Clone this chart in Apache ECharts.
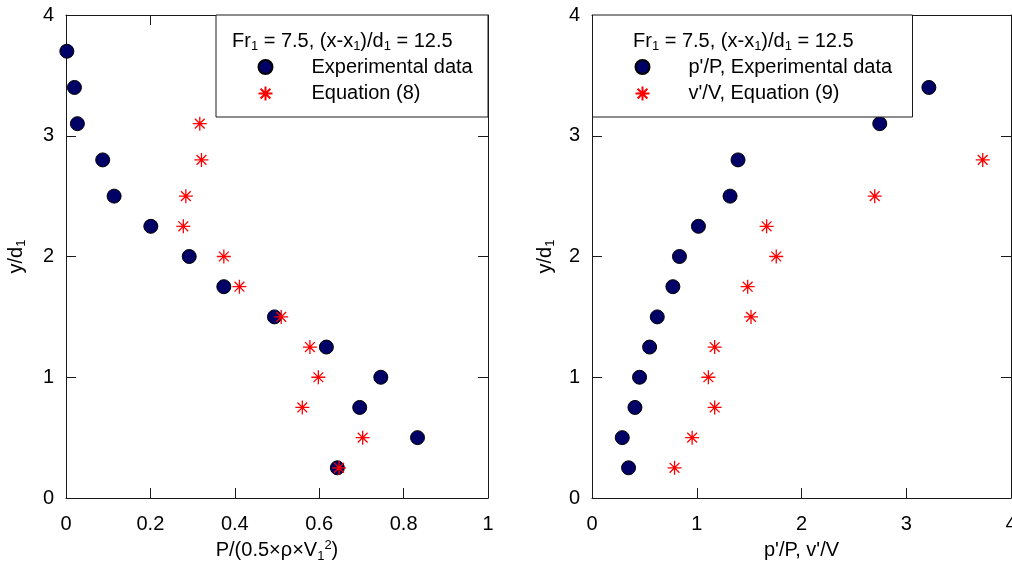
<!DOCTYPE html>
<html>
<head>
<meta charset="utf-8">
<script src="https://cdn.jsdelivr.net/npm/echarts@6/dist/echarts.min.js"></script>
<style>
html,body{margin:0;padding:0;background:#fff;}
#chart{width:1012px;height:564px;}
</style>
</head>
<body>
<div id="chart"></div>
<script>
// ---- data ----
const leftExpY = [3.7, 3.4, 3.1, 2.8, 2.5, 2.25, 2.0, 1.75, 1.5, 1.25, 1.0, 0.75, 0.5, 0.25];
const leftExpX = [0.002, 0.020, 0.027, 0.087, 0.114, 0.201, 0.292, 0.374, 0.494, 0.617, 0.746, 0.696, 0.833, 0.643];
const leftEqY = [3.1, 2.8, 2.5, 2.25, 2.0, 1.75, 1.5, 1.25, 1.0, 0.75, 0.5, 0.25];
const leftEqX = [0.317, 0.321, 0.284, 0.278, 0.374, 0.411, 0.510, 0.578, 0.598, 0.560, 0.703, 0.647];
const rightExpY = [3.4, 3.1, 2.8, 2.5, 2.25, 2.0, 1.75, 1.5, 1.25, 1.0, 0.75, 0.5, 0.25];
const rightExpX = [3.216, 2.747, 1.394, 1.318, 1.016, 0.835, 0.772, 0.623, 0.550, 0.454, 0.410, 0.289, 0.349];
const rightEqY = [2.8, 2.5, 2.25, 2.0, 1.75, 1.5, 1.25, 1.0, 0.75, 0.5, 0.25];
const rightEqX = [3.73, 2.699, 1.667, 1.759, 1.486, 1.518, 1.171, 1.111, 1.171, 0.956, 0.788];

const leftXTicks = ['0', '0.2', '0.4', '0.6', '0.8', '1'];
const rightXTicks = ['0', '1', '2', '3', '4'];
const yTicks = ['0', '1', '2', '3', '4'];

const seriesNames = ['Experimental data', 'Equation (8)', "p'/P, Experimental data", "v'/V, Equation (9)"];

// ---- styling ----
const FONT = 'Liberation Sans, Arial, sans-serif';
const FS = 20;
const AXC = '#1a1a1a';
const NAVY = '#000066';
const STAR = 'path://M10,0L10,20M0,10L20,10M3,3L17,17M3,17L17,3';

function pairs(xs, ys) { return xs.map((x, i) => [x, ys[i]]); }

function tickFmt(arr, step) {
  return function (v) { const i = Math.round(v / step); return arr[i] !== undefined ? arr[i] : ''; };
}

const nameRich = {
  n: { fontFamily: FONT, fontSize: FS, fontWeight: 'normal', color: '#000', lineHeight: 24, verticalAlign: 'middle' },
  s: { fontFamily: FONT, fontSize: 13, fontWeight: 'normal', color: '#000', lineHeight: 13, verticalAlign: 'bottom', padding: [11, 0, 0, 0] },
  p: { fontFamily: FONT, fontSize: 13, fontWeight: 'normal', color: '#000', lineHeight: 13, verticalAlign: 'top' }
};

function bottomAxis(gi, max, interval, ticks, name) {
  return {
    type: 'value', gridIndex: gi, position: 'bottom', min: 0, max: max, interval: interval,
    name: name, nameLocation: 'middle', nameGap: 40,
    nameTextStyle: { rich: nameRich },
    axisLine: { show: true, onZero: false, lineStyle: { color: AXC, width: 1 } },
    axisTick: { show: true, inside: true, length: 10, lineStyle: { color: AXC } },
    axisLabel: { show: true, margin: 16, fontFamily: FONT, fontSize: 20, color: '#000', formatter: tickFmt(ticks, interval), showMinLabel: true, showMaxLabel: true },
    splitLine: { show: false }
  };
}
function topAxis(gi, max, interval) {
  return {
    type: 'value', gridIndex: gi, position: 'top', min: 0, max: max, interval: interval,
    axisLine: { show: true, onZero: false, lineStyle: { color: AXC, width: 1 } },
    axisTick: { show: true, inside: true, length: 10, lineStyle: { color: AXC } },
    axisLabel: { show: false }, splitLine: { show: false }
  };
}
function leftAxis(gi, gap) {
  return {
    type: 'value', gridIndex: gi, position: 'left', min: 0, max: 4, interval: 1,
    name: '{n|y/d}{s|1}', nameLocation: 'middle', nameGap: gap, nameRotate: 90,
    nameTextStyle: { rich: nameRich },
    axisLine: { show: true, onZero: false, lineStyle: { color: AXC, width: 1 } },
    axisTick: { show: true, inside: true, length: 10, lineStyle: { color: AXC } },
    axisLabel: { show: true, margin: 12, fontFamily: FONT, fontSize: 20, color: '#000', formatter: tickFmt(yTicks, 1) },
    splitLine: { show: false }
  };
}
function rightAxis(gi) {
  return {
    type: 'value', gridIndex: gi, position: 'right', min: 0, max: 4, interval: 1,
    axisLine: { show: true, onZero: false, lineStyle: { color: AXC, width: 1 } },
    axisTick: { show: true, inside: true, length: 10, lineStyle: { color: AXC } },
    axisLabel: { show: false }, splitLine: { show: false }
  };
}

const circleStyle = { color: NAVY, borderColor: '#000', borderWidth: 1, opacity: 1 };
const starStyle = { color: 'none', borderColor: '#ff0000', borderWidth: 1.3, opacity: 1 };

const titleRich = {
  n: { fontFamily: FONT, fontSize: FS, fontWeight: 'normal', color: '#000', lineHeight: 24, verticalAlign: 'middle' },
  s: { fontFamily: FONT, fontSize: 13, fontWeight: 'normal', color: '#000', lineHeight: 13, verticalAlign: 'bottom', padding: [11, 0, 0, 0] }
};
const titleText = '{n|Fr}{s|1}{n| = 7.5, (x-x}{s|1}{n|)/d}{s|1}{n| = 12.5}';

const option = {
  backgroundColor: '#fff',
  animation: false,
  grid: [
    { left: 66, top: 15, right: 524, bottom: 66, containLabel: false, outerBoundsMode: 'none' },
    { left: 592, top: 15, right: 1, bottom: 66, containLabel: false, outerBoundsMode: 'none' }
  ],
  xAxis: [
    bottomAxis(0, 1, 0.2, leftXTicks, '{n|P/(0.5×ρ×V}{s|1}{p|2}{n|)}'),
    topAxis(0, 1, 0.2),
    bottomAxis(1, 4, 1, rightXTicks, "{n|p'/P, v'/V}"),
    topAxis(1, 4, 1)
  ],
  yAxis: [
    leftAxis(0, 38),
    rightAxis(0),
    leftAxis(1, 35),
    rightAxis(1)
  ],
  graphic: [
    { type: 'rect', z: 3, shape: { x: 216, y: 15, width: 272, height: 102 }, style: { fill: '#fff', stroke: AXC, lineWidth: 1 } },
    { type: 'rect', z: 3, shape: { x: 592.5, y: 15, width: 320, height: 102 }, style: { fill: '#fff', stroke: AXC, lineWidth: 1 } }
  ],
  title: [
    { text: titleText, left: 232, top: 29, padding: 0, z: 6, textStyle: { fontWeight: 'normal', rich: titleRich } },
    { text: titleText, left: 633, top: 29, padding: 0, z: 6, textStyle: { fontWeight: 'normal', rich: titleRich } }
  ],
  legend: [
    {
      data: [seriesNames[0], seriesNames[1]], orient: 'vertical', left: 256, top: 57, padding: 0,
      itemWidth: 14, itemHeight: 14, itemGap: 6.6, z: 5, selectedMode: false,
      textStyle: { fontFamily: FONT, fontSize: FS, color: '#000', padding: [0, 0, 0, 34] }
    },
    {
      data: [seriesNames[2], seriesNames[3]], orient: 'vertical', left: 633, top: 57, padding: 0,
      itemWidth: 14, itemHeight: 14, itemGap: 6.6, z: 5, selectedMode: false,
      textStyle: { fontFamily: FONT, fontSize: FS, color: '#000', padding: [0, 0, 0, 34] }
    }
  ],
  series: [
    { name: seriesNames[0], type: 'scatter', xAxisIndex: 0, yAxisIndex: 0, symbol: 'circle', symbolSize: 14, itemStyle: circleStyle, data: pairs(leftExpX, leftExpY), z: 2 },
    { name: seriesNames[1], type: 'scatter', xAxisIndex: 0, yAxisIndex: 0, symbol: STAR, symbolSize: 14, itemStyle: starStyle, data: pairs(leftEqX, leftEqY), z: 2 },
    { name: seriesNames[2], type: 'scatter', xAxisIndex: 2, yAxisIndex: 2, symbol: 'circle', symbolSize: 14, itemStyle: circleStyle, data: pairs(rightExpX, rightExpY), z: 2 },
    { name: seriesNames[3], type: 'scatter', xAxisIndex: 2, yAxisIndex: 2, symbol: STAR, symbolSize: 14, itemStyle: starStyle, data: pairs(rightEqX, rightEqY), z: 2 }
  ]
};

const chart = echarts.init(document.getElementById('chart'), null, { renderer: 'canvas' });
chart.setOption(option);
</script>
</body>
</html>
